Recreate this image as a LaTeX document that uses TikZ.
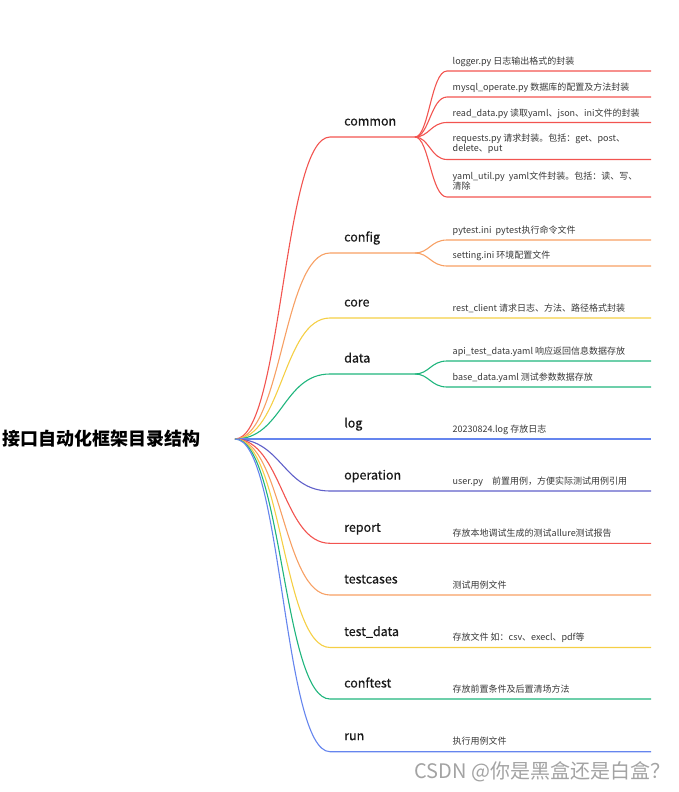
\documentclass[tikz,border=0pt]{standalone}
\usepackage{fontspec}
\setmainfont{Noto Sans CJK SC}
\newfontfamily\topicfont[FakeBold=0.5]{Noto Sans CJK SC}
\definecolor{cred}{HTML}{F25450}
\definecolor{corange}{HTML}{F7A064}
\definecolor{cyellow}{HTML}{F5CF45}
\definecolor{cgreen}{HTML}{1FB57D}
\definecolor{cblue}{HTML}{6585EE}
\definecolor{cindigo}{HTML}{5F5FC9}
\begin{document}
\begin{tikzpicture}[x=1pt, y=-1pt,
        topic/.style={anchor=base west, inner sep=0pt, font=\topicfont\fontsize{12.5}{15}\selectfont, text=black!90},
        item/.style={anchor=base west, inner sep=0pt, font=\fontsize{9}{10.5}\selectfont, text=black!78, align=left},
        wire/.style={line width=1.1pt}]
    \useasboundingbox (0,0) rectangle (679,792);

    \node[anchor=base west, inner sep=0pt, font=\bfseries\fontsize{18}{20}\selectfont] (title) at (2,445.5) {接口自动化框架目录结构};
    \coordinate (root) at (235,439);

    % first level
    \coordinate (common) at (330,137);      \coordinate (commonJ) at (415,137);
    \coordinate (config) at (330,253);      \coordinate (configJ) at (415,253);
    \coordinate (core) at (330,318);
    \coordinate (data) at (330,374);        \coordinate (dataJ) at (415,374);
    \coordinate (log) at (330,439);
    \coordinate (operation) at (330,491);
    \coordinate (report) at (330,543.3);
    \coordinate (testcases) at (330,595);
    \coordinate (testdata) at (330,647.5);
    \coordinate (conftest) at (330,699);
    \coordinate (run) at (330,751.7);

    \node[topic] (commonL) at (344,125.5) {common};
    \node[topic] (configL) at (344,241.5) {config};
    \node[topic] (coreL) at (344,306.5) {core};
    \node[topic] (dataL) at (344,362.5) {data};
    \node[topic] (logL) at (344,427.5) {log};
    \node[topic] (operationL) at (344,479.5) {operation};
    \node[topic] (reportL) at (344,531.8) {report};
    \node[topic] (testcasesL) at (344,583.5) {testcases};
    \node[topic] (testdataL) at (344,636) {test\_data};
    \node[topic] (conftestL) at (344,687.5) {conftest};
    \node[topic] (runL) at (344,740.2) {run};

    % second level
    \coordinate (c1) at (447,71);     \coordinate (c1e) at (651,71);
    \coordinate (c2) at (447,97);     \coordinate (c2e) at (651,97);
    \coordinate (c3) at (447,122.5);  \coordinate (c3e) at (651,122.5);
    \coordinate (c4) at (447,159.5);  \coordinate (c4e) at (651,159.5);
    \coordinate (c5) at (447,197);    \coordinate (c5e) at (651,197);
    \coordinate (g1) at (447,240);    \coordinate (g1e) at (651,240);
    \coordinate (g2) at (447,266);    \coordinate (g2e) at (651,266);
    \coordinate (coreE) at (651,318);
    \coordinate (d1) at (447,361);    \coordinate (d1e) at (651,361);
    \coordinate (d2) at (447,387);    \coordinate (d2e) at (651,387);
    \coordinate (logE) at (651,439);
    \coordinate (operationE) at (651,491);
    \coordinate (reportE) at (651,543.3);
    \coordinate (testcasesE) at (651,595);
    \coordinate (testdataE) at (651,647.5);
    \coordinate (conftestE) at (651,699);
    \coordinate (runE) at (651,751.7);

    \node[item] (c1L) at (452.5,64.5) {logger.py 日志输出格式的封装};
    \node[item] (c2L) at (452.5,90.5) {mysql\_operate.py 数据库的配置及方法封装};
    \node[item] (c3L) at (452.5,116) {read\_data.py 读取yaml、json、ini文件的封装};
    \node[item] (c4L) at (452.5,151.6) {requests.py 请求封装。包括：get、post、\\delete、put};
    \node[item] (c5L) at (452.5,189.6) {yaml\_util.py\ \ yaml文件封装。包括：读、写、\\清除};
    \node[item] (g1L) at (452.5,233.3) {pytest.ini\ \ pytest执行命令文件};
    \node[item] (g2L) at (452.5,258.7) {setting.ini 环境配置文件};
    \node[item] (coreI) at (452.5,311.5) {rest\_client 请求日志、方法、路径格式封装};
    \node[item] (d1L) at (452.5,354) {api\_test\_data.yaml 响应返回信息数据存放};
    \node[item] (d2L) at (452.5,380) {base\_data.yaml 测试参数数据存放};
    \node[item] (logI) at (452.5,432) {20230824.log 存放日志};
    \node[item] (operationI) at (452.5,484.4) {user.py\quad 前置用例，方便实际测试用例引用};
    \node[item] (reportI) at (452.5,536.4) {存放本地调试生成的测试allure测试报告};
    \node[item] (testcasesI) at (452.5,588.4) {测试用例文件};
    \node[item] (testdataI) at (452.5,640.6) {存放文件 如：csv、execl、pdf等};
    \node[item] (conftestI) at (452.5,692.4) {存放前置条件及后置清场方法};
    \node[item] (runI) at (452.5,744.6) {执行用例文件};

    % connectors
    \draw[wire, cred] (root) .. controls +(47,0) and +(-47,0) .. (common) -- (commonJ);
    \draw[wire, corange] (root) .. controls +(47,0) and +(-47,0) .. (config) -- (configJ);
    \draw[wire, cyellow] (root) .. controls +(47,0) and +(-47,0) .. (core) -- (coreE);
    \draw[wire, cgreen] (root) .. controls +(47,0) and +(-47,0) .. (data) -- (dataJ);
    \draw[wire, cblue] (root) -- (log) -- (logE);
    \draw[wire, cindigo] (root) .. controls +(47,0) and +(-47,0) .. (operation) -- (operationE);
    \draw[wire, cred] (root) .. controls +(47,0) and +(-47,0) .. (report) -- (reportE);
    \draw[wire, corange] (root) .. controls +(47,0) and +(-47,0) .. (testcases) -- (testcasesE);
    \draw[wire, cyellow] (root) .. controls +(47,0) and +(-47,0) .. (testdata) -- (testdataE);
    \draw[wire, cgreen] (root) .. controls +(47,0) and +(-47,0) .. (conftest) -- (conftestE);
    \draw[wire, cblue] (root) .. controls +(47,0) and +(-47,0) .. (run) -- (runE);

    \draw[wire, cred] (commonJ) .. controls +(14,0) and +(-16,0) .. (c1) -- (c1e);
    \draw[wire, cred] (commonJ) .. controls +(14,0) and +(-16,0) .. (c2) -- (c2e);
    \draw[wire, cred] (commonJ) .. controls +(14,0) and +(-16,0) .. (c3) -- (c3e);
    \draw[wire, cred] (commonJ) .. controls +(14,0) and +(-16,0) .. (c4) -- (c4e);
    \draw[wire, cred] (commonJ) .. controls +(14,0) and +(-16,0) .. (c5) -- (c5e);
    \draw[wire, corange] (configJ) .. controls +(14,0) and +(-16,0) .. (g1) -- (g1e);
    \draw[wire, corange] (configJ) .. controls +(14,0) and +(-16,0) .. (g2) -- (g2e);
    \draw[wire, cgreen] (dataJ) .. controls +(14,0) and +(-16,0) .. (d1) -- (d1e);
    \draw[wire, cgreen] (dataJ) .. controls +(14,0) and +(-16,0) .. (d2) -- (d2e);

    \node[inner sep=0pt, font=\fontsize{20}{22}\selectfont, text=black!36] (mark) at (542.5,772) {CSDN @你是黑盒还是白盒？};
\end{tikzpicture}
\end{document}
